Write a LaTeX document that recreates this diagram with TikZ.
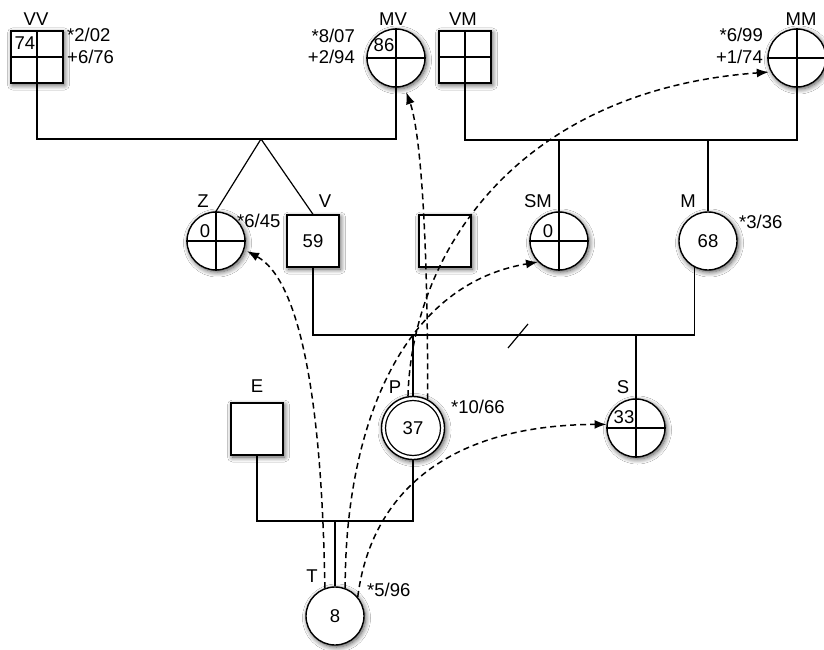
\documentclass[tikz,border=0pt]{standalone}
\usepackage{fontspec}
\setmainfont{Liberation Sans}
\usetikzlibrary{arrows.meta,shadows.blur,calc}
\tikzset{
 sym/.style={draw, line width=1.4pt, fill=white, inner sep=0pt,
   blur shadow={shadow blur steps=8, shadow xshift=1.5pt, shadow yshift=-2pt, shadow opacity=70, shadow blur radius=5pt}},
 sqr/.style={sym, rectangle, minimum size=52pt},
 crc/.style={sym, circle, minimum size=58pt},
 lbl/.style={font=\fontsize{18.5}{21}\selectfont, inner sep=0pt},
 link/.style={line width=1.2pt},
 dna/.style={line width=1.5pt, dash pattern=on 6pt off 4pt, -{Latex[length=12pt,width=9pt]}},
}
\begin{document}
\begin{tikzpicture}[x=1pt,y=-1pt]
\useasboundingbox[fill=white] (0,0) rectangle (824,650);
% symbols
\node[sqr] (VV) at (37,57) {};
\node[crc] (MV) at (396,58) {};
\node[sqr] (VM) at (465,57) {};
\node[crc] (MM) at (797,58) {};
\node[crc] (Z) at (216,241) {};
\node[sqr] (V) at (313,241) {};
\node[sqr] (Q) at (445,241) {};
\node[crc] (SM) at (559,241) {};
\node[crc] (M) at (708,241) {};
\node[sym, circle, minimum size=63pt] (P) at (413,428) {};
\draw[line width=1.2pt] (P.center) circle (27.5pt);
\node[crc] (S) at (636,428) {};
\node[sqr] (E) at (257,429) {};
\node[crc] (T) at (335,616) {};
% quadrant crosses
\foreach \n in {VV,MV,VM,MM,Z,SM,S}{
  \draw[link] (\n.north) -- (\n.south);
  \draw[link] (\n.west) -- (\n.east);
}
% family lines
\coordinate (j1) at (261,139);
\draw[link] (VV.south) |- (j1) -| (MV.south);
\draw[link] (j1) -- (Z.north);
\draw[link] (j1) -- (V.north);
\coordinate (j2) at (630,140);
\draw[link] (VM.south) |- (j2) -| (MM.south);
\draw[link] (SM.north |- j2) -- (SM.north);
\draw[link] (M.north |- j2) -- (M.north);
\coordinate (j3) at (500,335);
\draw[link] (V.south) |- (j3) -| (M.243);
\draw[link] (P.north |- j3) -- (P.north);
\draw[link] (S.north |- j3) -- (S.north);
\coordinate (k1) at (508,348);
\coordinate (k2) at (528,324);
\draw[link] (k1) -- (k2);
\coordinate (j4) at (334,521);
\draw[link] (E.south) |- (j4) -| (P.south);
\draw[link] (T.north |- j4) -- (T.north);
% names
\node[lbl] (lVV) at (36,19) {VV};
\node[lbl] (lMV) at (393,19) {MV};
\node[lbl] (lVM) at (463,19) {VM};
\node[lbl] (lMM) at (801,19) {MM};
\node[lbl] (lZ) at (203,201) {Z};
\node[lbl] (lV) at (325,201) {V};
\node[lbl] (lSM) at (538,201) {SM};
\node[lbl] (lM) at (688,201) {M};
\node[lbl] (lP) at (395,387) {P};
\node[lbl] (lS) at (623,387) {S};
\node[lbl] (lE) at (257,386) {E};
\node[lbl] (lT) at (312,576) {T};
% numbers
\node[lbl] (nVV) at ($(VV)+(-12,-14)$) {74};
\node[lbl] (nMV) at ($(MV)+(-12,-13)$) {86};
\node[lbl] (nZ) at ($(Z)+(-11,-10)$) {0};
\node[lbl] (nSM) at ($(SM)+(-11,-10)$) {0};
\node[lbl] (nS) at ($(S)+(-12,-11)$) {33};
\node[lbl] (nV) at (V) {59};
\node[lbl] (nM) at (M) {68};
\node[lbl] (nP) at (P) {37};
\node[lbl] (nT) at (T) {8};
% annotations
\node[lbl, anchor=west] (a1) at (67,35) {*2/02};
\node[lbl, anchor=west] (a2) at (67,57) {+6/76};
\node[lbl, anchor=east] (a3) at (355,36) {*8/07};
\node[lbl, anchor=east] (a4) at (355,57) {+2/94};
\node[lbl, anchor=east] (a5) at (763,35) {*6/99};
\node[lbl, anchor=east] (a6) at (763,57) {+1/74};
\node[lbl, anchor=west] (a7) at (237,221) {*6/45};
\node[lbl, anchor=west] (a8) at (739,222) {*3/36};
\node[lbl, anchor=west] (a9) at (451,407) {*10/66};
\node[lbl, anchor=west] (a10) at (367,590) {*5/96};
% dashed arrows
\draw[dna, shorten >=3pt] (T.110) .. controls (322,400) and (300,280) .. (Z.-17);
\draw[dna] (T.70) .. controls (345,430) and (400,285) .. (SM.225);
\draw[dna] (T.40) .. controls (370,500) and (440,425) .. (S.173);
\draw[dna, shorten >=6pt] (P.63) .. controls (428,230) and (420,130) .. (MV.-74);
\draw[dna, shorten >=2pt] (P.99) .. controls (412,250) and (520,90) .. (MM.208);
\end{tikzpicture}
\end{document}
